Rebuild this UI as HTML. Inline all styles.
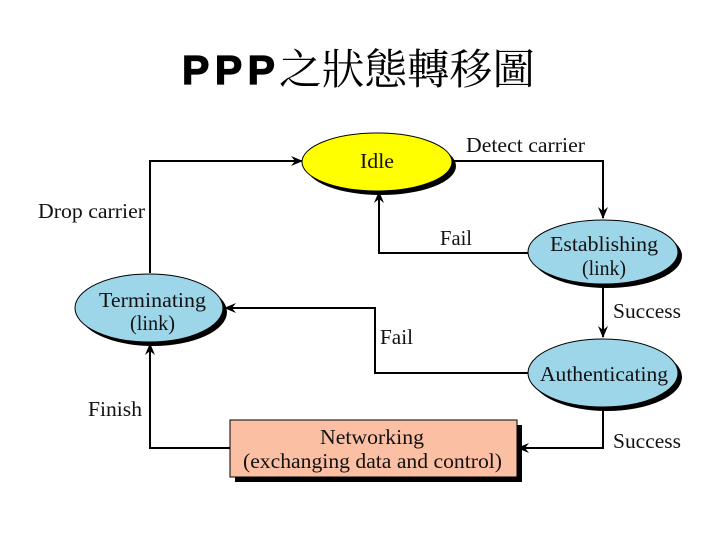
<!DOCTYPE html>
<html><head><meta charset="utf-8"><style>
html,body{margin:0;padding:0;background:#fff;width:720px;height:540px;overflow:hidden}
svg{display:block}
.l{font-family:"Liberation Serif",serif;font-size:21px;fill:#111}
</style></head><body>
<svg width="720" height="540" viewBox="0 0 720 540">
<defs><marker id="a" markerWidth="12" markerHeight="10" refX="11" refY="5" orient="auto" markerUnits="userSpaceOnUse"><path d="M0,0 L12,5 L0,10 L4,5 Z" fill="#000"/></marker></defs>
<text x="182" y="84" font-family="Liberation Sans,sans-serif" font-weight="bold" font-size="41" stroke="#000" stroke-width="1.2" textLength="93" lengthAdjust="spacing">PPP</text>
<text x="279" y="84" font-family="'Noto Serif CJK SC','Noto Sans CJK TC',serif" font-size="42" textLength="256" lengthAdjust="spacingAndGlyphs">之狀態轉移圖</text>
<g fill="none" stroke="#000" stroke-width="2">
<polyline points="150,273 150,161 302,161" marker-end="url(#a)"/>
<polyline points="453,161 603,161 603,218" marker-end="url(#a)"/>
<polyline points="528,253 379,253 379,192" marker-end="url(#a)"/>
<polyline points="603,285 603,337" marker-end="url(#a)"/>
<polyline points="528,373 375,373 375,308 225,308" marker-end="url(#a)"/>
<polyline points="603,408 603,448 518,448" marker-end="url(#a)"/>
<polyline points="230,448 150,448 150,344" marker-end="url(#a)"/>
</g>
<ellipse cx="381" cy="166" rx="75" ry="29" fill="#000"/>
<ellipse cx="377" cy="162" rx="75" ry="29" fill="#ffff00" stroke="#000" stroke-width="1"/>
<ellipse cx="607" cy="256" rx="75" ry="32" fill="#000"/>
<ellipse cx="603" cy="252" rx="75" ry="32" fill="#9dd6e8" stroke="#000" stroke-width="1"/>
<ellipse cx="607" cy="377" rx="75" ry="34" fill="#000"/>
<ellipse cx="603" cy="373" rx="75" ry="34" fill="#9dd6e8" stroke="#000" stroke-width="1"/>
<ellipse cx="153" cy="312" rx="74" ry="34" fill="#000"/>
<ellipse cx="149" cy="308" rx="74" ry="34" fill="#9dd6e8" stroke="#000" stroke-width="1"/>
<rect x="235" y="425" width="287" height="57" fill="#000"/>
<rect x="230" y="420" width="287" height="57" fill="#fbbfa3" stroke="#000" stroke-width="1"/>
<g class="l">
<text x="360" y="168" textLength="34" lengthAdjust="spacingAndGlyphs">Idle</text>
<text x="550" y="251" textLength="108" lengthAdjust="spacingAndGlyphs">Establishing</text>
<text x="582" y="275" textLength="44" lengthAdjust="spacingAndGlyphs">(link)</text>
<text x="540" y="381" textLength="128" lengthAdjust="spacingAndGlyphs">Authenticating</text>
<text x="99" y="307" textLength="107" lengthAdjust="spacingAndGlyphs">Terminating</text>
<text x="130" y="330" textLength="45" lengthAdjust="spacingAndGlyphs">(link)</text>
<text x="320" y="444" textLength="104" lengthAdjust="spacingAndGlyphs">Networking</text>
<text x="243" y="468" textLength="259" lengthAdjust="spacingAndGlyphs">(exchanging data and control)</text>
<text x="466" y="152" textLength="119" lengthAdjust="spacingAndGlyphs">Detect carrier</text>
<text x="440" y="245" textLength="32" lengthAdjust="spacingAndGlyphs">Fail</text>
<text x="613" y="318" textLength="68" lengthAdjust="spacingAndGlyphs">Success</text>
<text x="613" y="448" textLength="68" lengthAdjust="spacingAndGlyphs">Success</text>
<text x="380" y="344" textLength="33" lengthAdjust="spacingAndGlyphs">Fail</text>
<text x="38" y="218" textLength="107" lengthAdjust="spacingAndGlyphs">Drop carrier</text>
<text x="88" y="416" textLength="54" lengthAdjust="spacingAndGlyphs">Finish</text>
</g>
</svg>
</body></html>
